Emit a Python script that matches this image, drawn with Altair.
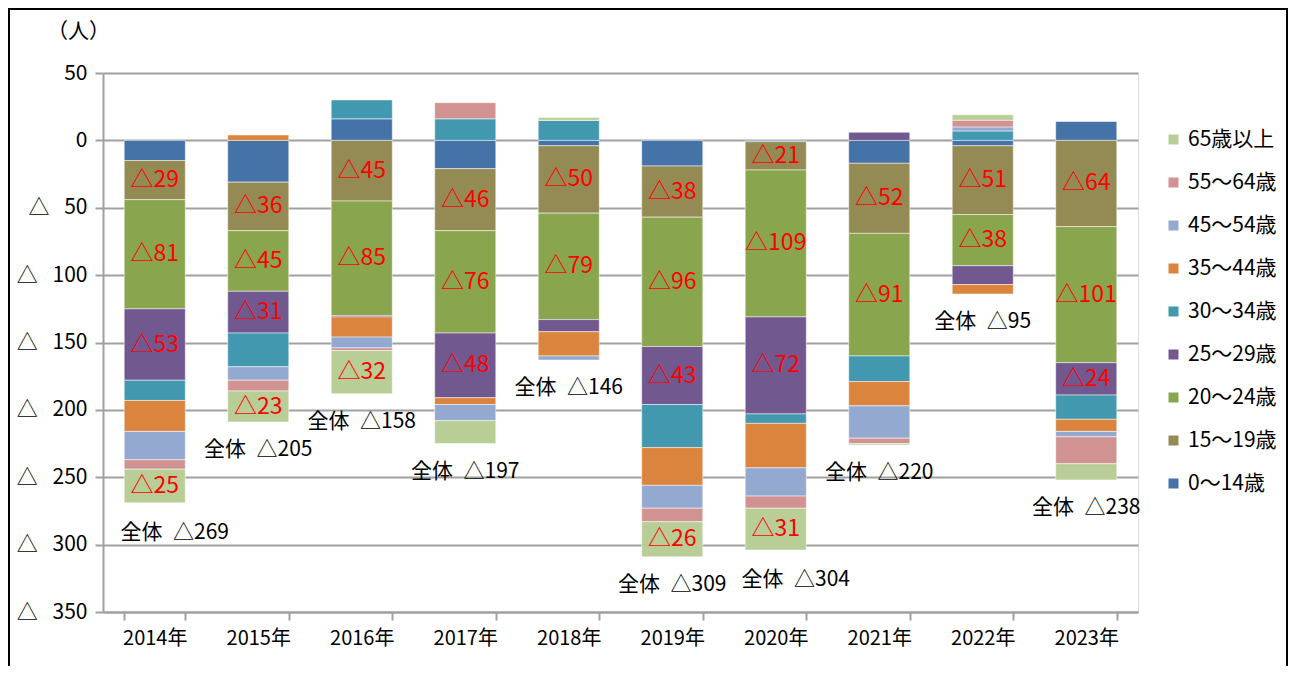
import altair as alt
import pandas as pd

years = ["2014年", "2015年", "2016年", "2017年", "2018年",
         "2019年", "2020年", "2021年", "2022年", "2023年"]
ages = ["0～14歳", "15～19歳", "20～24歳", "25～29歳", "30～34歳",
        "35～44歳", "45～54歳", "55～64歳", "65歳以上"]

v_0_14 = [-15, -31, 16, -21, -4, -19, -1, -17, -4, 14]
v_15_19 = [-29, -36, -45, -46, -50, -38, -21, -52, -51, -64]
v_20_24 = [-81, -45, -85, -76, -79, -96, -109, -91, -38, -101]
v_25_29 = [-53, -31, -1, -48, -9, -43, -72, 6, -14, -24]
v_30_34 = [-15, -25, 14, 16, 15, -32, -7, -19, 7, -18]
v_35_44 = [-23, 4, -15, -5, -18, -28, -33, -18, -7, -9]
v_45_54 = [-21, -10, -8, -12, -3, -17, -21, -24, 3, -4]
v_55_64 = [-7, -8, -2, 12, 0, -10, -9, -4, 5, -20]
v_65 = [-25, -23, -32, -17, 2, -26, -31, -1, 4, -12]
totals = [-269, -205, -158, -197, -146, -309, -304, -220, -95, -238]

series = [v_0_14, v_15_19, v_20_24, v_25_29, v_30_34, v_35_44, v_45_54, v_55_64, v_65]
labeled_ages = ["15～19歳", "20～24歳", "25～29歳", "65歳以上"]
shifted_years = ["2014年", "2020年"]

legend_order = list(reversed(ages))
colors = ["#B9CD96", "#D19392", "#93A9CF", "#DB843D", "#4198AF",
          "#71588F", "#89A54E", "#948A54", "#4572A7"]

rows = []
for i, a in enumerate(ages):
    for j, y in enumerate(years):
        rows.append({"year": y, "age": a, "order": i, "value": series[i][j]})
df = pd.DataFrame(rows)

tot_rows = []
for j, y in enumerate(years):
    bottom = sum(s[j] for s in series if s[j] < 0)
    tot_rows.append({"year": y, "bottom": bottom,
                     "label": "全体\u2002△" + str(-totals[j])})
df_tot = pd.DataFrame(tot_rows)

FONT = "Noto Sans CJK JP"

x_enc = alt.X("year:N", sort=years,
              scale=alt.Scale(paddingInner=0.41, paddingOuter=0.205),
              axis=alt.Axis(title=None, labelAngle=0, tickBand="extent",
                            domainColor="#A0A0A0", domainWidth=2,
                            tickColor="#A0A0A0", tickWidth=2, tickSize=8,
                            labelFontSize=20, labelPadding=8, labelColor="black",
                            labelFont=FONT))

y_scale = alt.Scale(domain=[-350, 50], nice=False)

base = alt.Chart(df).transform_stack(
    stack="value", groupby=["year"],
    sort=[alt.SortField("order", order="ascending")],
    as_=["v0", "v1"],
).transform_calculate(mid="(datum.v0 + datum.v1) / 2")

bars = base.mark_bar(stroke="white", strokeWidth=0.5).encode(
    x=x_enc,
    y=alt.Y("v0:Q", scale=y_scale,
            axis=alt.Axis(values=list(range(-350, 51, 50)),
                          labelExpr="datum.value < 0 ? '△\u2002\u2009' + (-datum.value) : '' + datum.value",
                          title="（人）", titleAngle=0, titleX=-25, titleY=-42,
                          titleAlign="center", titleBaseline="middle",
                          titleFontSize=21, titleFontWeight="normal", titleFont=FONT,
                          titleColor="black",
                          labelFontSize=21, labelFont=FONT, labelColor="black",
                          labelPadding=8,
                          grid=True, gridColor="#A0A0A0", gridWidth=2,
                          domainColor="#A0A0A0", domainWidth=2,
                          tickColor="#A0A0A0", tickWidth=2, tickSize=8)),
    y2="v1:Q",
    color=alt.Color("age:N", scale=alt.Scale(domain=legend_order, range=colors),
                    legend=alt.Legend(title=None, orient="none", legendX=1060, legendY=56,
                                      symbolType="square", symbolSize=100,
                                      symbolStrokeWidth=0,
                                      labelFontSize=21, labelFont=FONT, labelColor="black",
                                      rowPadding=21, labelOffset=4)),
    order=alt.Order("order:Q"),
)

seg_labels = base.transform_filter(
    alt.FieldOneOfPredicate(field="age", oneOf=labeled_ages)
).transform_filter("datum.value <= -20").transform_calculate(
    lab="'△' + (-datum.value)"
).mark_text(color="#FF0000", fontSize=23, font=FONT, baseline="middle").encode(
    x=x_enc, y=alt.Y("mid:Q", scale=y_scale), text="lab:N")

tot_base = alt.Chart(df_tot)
tot_normal = tot_base.transform_filter(
    {"not": alt.FieldOneOfPredicate(field="year", oneOf=shifted_years)}
).mark_text(color="black", fontSize=21, font=FONT, baseline="middle", dy=28).encode(
    x=x_enc, y=alt.Y("bottom:Q", scale=y_scale), text="label:N")
tot_shift = tot_base.transform_filter(
    alt.FieldOneOfPredicate(field="year", oneOf=shifted_years)
).mark_text(color="black", fontSize=21, font=FONT, baseline="middle", dy=30, dx=20).encode(
    x=x_enc, y=alt.Y("bottom:Q", scale=y_scale), text="label:N")

frame_df = pd.DataFrame({"k": [0]})
frame_left = alt.Chart(frame_df).mark_rule(color="black", strokeWidth=2).encode(
    x=alt.value(-94), y=alt.value(-65), y2=alt.value(640))
frame_right = alt.Chart(frame_df).mark_rule(color="black", strokeWidth=2).encode(
    x=alt.value(1184), y=alt.value(-65), y2=alt.value(640))
frame_top = alt.Chart(frame_df).mark_rule(color="black", strokeWidth=2).encode(
    x=alt.value(-94), x2=alt.value(1184), y=alt.value(-64))

chart = alt.layer(bars, seg_labels, tot_normal, tot_shift,
                  frame_left, frame_right, frame_top).properties(
    width=1035, height=539,
    autosize=alt.AutoSizeParams(type="none"),
    padding={"left": 95, "top": 65, "right": 151, "bottom": 54},
).configure_view(stroke=None).configure(font=FONT)

chart.save("out.html", embed_options={"renderer": "svg", "actions": False})
